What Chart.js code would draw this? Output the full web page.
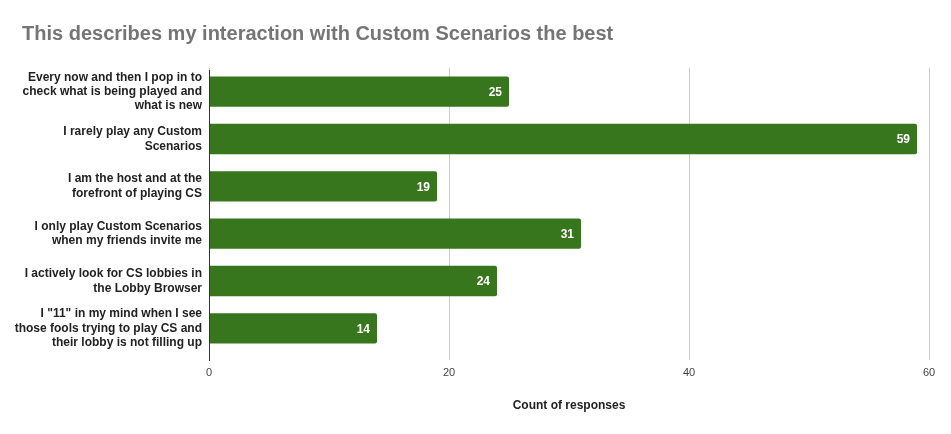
<!DOCTYPE html>
<html>
<head>
<meta charset="utf-8">
<script src="https://cdn.jsdelivr.net/npm/chart.js@4"></script>
<style>
  html, body { margin: 0; padding: 0; background: #fff; }
  #wrap { width: 951px; height: 434px; position: relative; }
</style>
</head>
<body>
<div id="wrap"><canvas id="chart"></canvas></div>
<script>
// Chart data
const categories = [
    ['Every now and then I pop in to', 'check what is being played and', 'what is new'],
    ['I rarely play any Custom', 'Scenarios'],
    ['I am the host and at the', 'forefront of playing CS'],
    ['I only play Custom Scenarios', 'when my friends invite me'],
    ['I actively look for CS lobbies in', 'the Lobby Browser'],
    ['I "11" in my mind when I see', 'those fools trying to play CS and', 'their lobby is not filling up']
];
const responses = [25, 59, 19, 31, 24, 14];
const xTicks = [0, 20, 40, 60];

// Value labels at the end of each bar + the dark axis line at zero
const barLabels = {
    id: 'barLabels',
    afterLayout(chart) {
        // keep the title indented like the original
        if (chart.titleBlock) {
            chart.titleBlock.left = 22;
        }
    },
    afterDatasetsDraw(chart) {
        const ctx = chart.ctx;
        const area = chart.chartArea;
        const meta = chart.getDatasetMeta(0);
        const x0 = Math.round(chart.scales.x.getPixelForValue(0)) + 0.5;
        ctx.save();
        ctx.strokeStyle = '#333333';
        ctx.lineWidth = 1;
        ctx.beginPath();
        ctx.moveTo(x0, area.top + 2);
        ctx.lineTo(x0, area.bottom + 9);
        ctx.stroke();

        ctx.font = 'bold 12px Arial, "Liberation Sans", sans-serif';
        ctx.fillStyle = '#ffffff';
        ctx.textAlign = 'right';
        ctx.textBaseline = 'middle';
        meta.data.forEach((bar, i) => {
            ctx.fillText(String(responses[i]), bar.x - 7, bar.y + 1);
        });
        ctx.restore();
    }
};

new Chart(document.getElementById('chart'), {
    type: 'bar',
    data: {
        labels: categories,
        datasets: [{
            label: 'Count of responses',
            data: responses,
            backgroundColor: '#38761d',
            borderRadius: 2,
            borderSkipped: 'start',
            barPercentage: 0.64,
            categoryPercentage: 1
        }]
    },
    options: {
        indexAxis: 'y',
        responsive: true,
        maintainAspectRatio: false,
        animation: false,
        layout: { padding: { left: 6, right: 22, top: 0, bottom: 10 } },
        plugins: {
            legend: { display: false },
            tooltip: { enabled: false },
            title: {
                display: true,
                text: 'This describes my interaction with Custom Scenarios the best',
                align: 'start',
                color: '#757575',
                font: { family: 'Arial, "Liberation Sans", sans-serif', size: 20, weight: 'bold' },
                padding: { top: 22, bottom: 22 }
            }
        },
        scales: {
            x: {
                min: 0,
                max: 60,
                afterBuildTicks(scale) {
                    scale.ticks = xTicks.map(v => ({ value: v }));
                },
                afterFit(scale) { scale.height = 72; },
                grid: { color: '#cccccc', tickLength: 8, drawTicks: true },
                border: { display: false },
                ticks: {
                    padding: 6,
                    color: '#444444',
                    font: { family: 'Arial, "Liberation Sans", sans-serif', size: 11 }
                },
                title: {
                    display: true,
                    text: 'Count of responses',
                    color: '#222222',
                    font: { family: 'Arial, "Liberation Sans", sans-serif', size: 12, weight: 'bold' },
                    padding: { top: 4, bottom: 11 }
                }
            },
            y: {
                afterFit(scale) { scale.width = 203; },
                grid: { display: false, drawTicks: false },
                border: { display: false },
                ticks: {
                    padding: 7,
                    color: '#222222',
                    font: { family: 'Arial, "Liberation Sans", sans-serif', size: 12, weight: 'bold', lineHeight: 1.2 }
                }
            }
        }
    },
    plugins: [barLabels]
});
</script>
</body>
</html>
